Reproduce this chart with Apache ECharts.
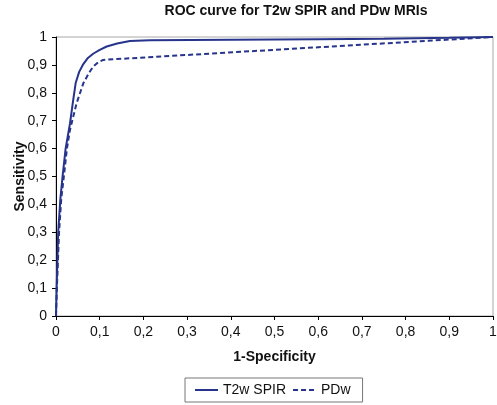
<!DOCTYPE html>
<html>
<head>
<meta charset="utf-8">
<script src="https://cdn.jsdelivr.net/npm/echarts@6/dist/echarts.min.js"></script>
<style>html,body{margin:0;padding:0;background:#fff}#c{width:497px;height:405px}</style>
</head>
<body>
<div id="c"></div>
<script>
const titleText = 'ROC curve for T2w SPIR and PDw MRIs';
const xName = '1-Specificity';
const yName = 'Sensitivity';
const seriesNames = ['T2w SPIR', 'PDw'];
const t2wX = [0, 0.0015, 0.005, 0.01, 0.015, 0.022, 0.032, 0.039, 0.045, 0.053, 0.0625, 0.073, 0.085, 0.1, 0.116, 0.14, 0.169, 0.215, 0.4, 0.6, 0.75, 0.9, 1];
const t2wY = [0, 0.1, 0.3, 0.42, 0.5, 0.6, 0.69, 0.77, 0.835, 0.875, 0.903, 0.925, 0.94, 0.954, 0.966, 0.977, 0.986, 0.988, 0.99, 0.992, 0.994, 0.997, 1];
const pdwX = [0, 0.002, 0.007, 0.012, 0.018, 0.025, 0.032, 0.047, 0.0625, 0.075, 0.085, 0.097, 0.108, 1];
const pdwY = [0, 0.1, 0.3, 0.42, 0.5, 0.6, 0.667, 0.762, 0.834, 0.87, 0.894, 0.91, 0.918, 1];

const lineColor = '#27348B';
const FONT = 'Liberation Sans, Arial, sans-serif';
const fmt = v => (Math.abs(v) < 1e-9 ? '0' : Math.abs(v - 1) < 1e-9 ? '1' : v.toFixed(1).replace('.', ','));

const chart = echarts.init(document.getElementById('c'), null, {renderer: 'canvas'});
chart.setOption({
  animation: false,
  backgroundColor: '#fff',
  textStyle: {fontFamily: FONT},
  title: {
    text: titleText, left: 291, top: -1, textAlign: 'center',
    textStyle: {fontSize: 14, fontWeight: 'bold', color: '#111', fontFamily: FONT}
  },
  grid: {left: 56, right: 4, top: 37, bottom: 89, show: true, borderColor: '#a8a8a8', borderWidth: 1,
         containLabel: false, outerBoundsMode: 'none'},
  xAxis: {
    type: 'value', min: 0, max: 1, interval: 0.1,
    name: xName, nameLocation: 'middle', nameGap: 34,
    nameTextStyle: {fontSize: 14, fontWeight: 'bold', color: '#111'},
    axisLine: {lineStyle: {color: '#000', width: 1}},
    axisTick: {show: true, length: 4, lineStyle: {color: '#000'}},
    axisLabel: {formatter: fmt, fontSize: 14, color: '#111', margin: 9},
    splitLine: {show: false}
  },
  yAxis: {
    type: 'value', min: 0, max: 1, interval: 0.1,
    name: yName, nameLocation: 'middle', nameGap: 29, nameMoveOverlap: false,
    nameTextStyle: {fontSize: 14, fontWeight: 'bold', color: '#111'},
    axisLine: {show: true, lineStyle: {color: '#000', width: 1}},
    axisTick: {show: true, length: 4, lineStyle: {color: '#000'}},
    axisLabel: {formatter: fmt, fontSize: 14, color: '#111', margin: 9},
    splitLine: {show: false}
  },
  legend: {
    left: 185, top: 378,
    padding: [5, 12, 5, 9], itemGap: 6,
    borderColor: '#777', borderWidth: 1, borderRadius: 0,
    itemWidth: 23, itemHeight: 14,
    itemStyle: {opacity: 0},
    textStyle: {fontSize: 14, color: '#111'},
    data: seriesNames
  },
  series: [
    {
      name: seriesNames[0], type: 'line', showSymbol: false, symbol: 'none', smooth: false,
      data: t2wX.map((x, i) => [x, t2wY[i]]),
      lineStyle: {color: lineColor, width: 2}, itemStyle: {color: lineColor}
    },
    {
      name: seriesNames[1], type: 'line', showSymbol: false, symbol: 'none', smooth: false,
      data: pdwX.map((x, i) => [x, pdwY[i]]),
      lineStyle: {color: lineColor, width: 2, type: [5, 3]}, itemStyle: {color: lineColor}
    }
  ]
});
</script>
</body>
</html>
